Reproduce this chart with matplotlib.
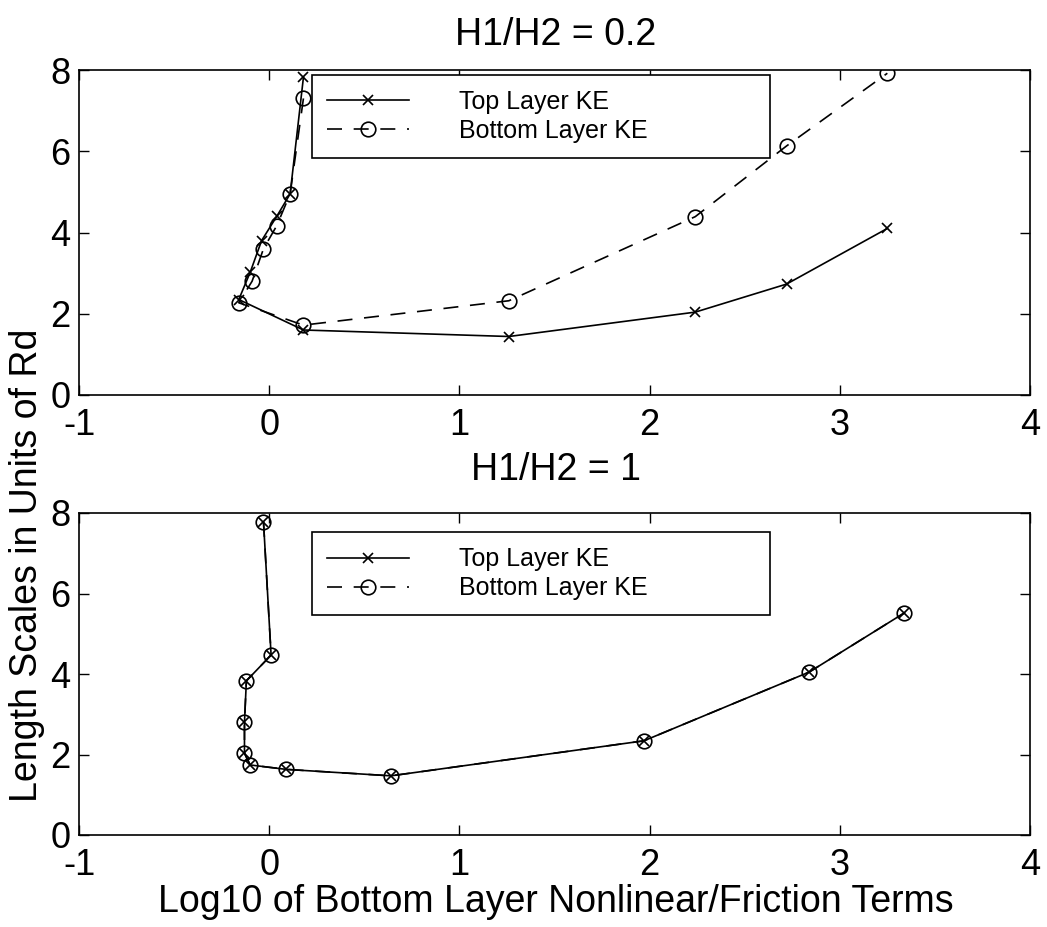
import matplotlib
matplotlib.use("Agg")
import matplotlib.pyplot as plt

plt.rcParams['font.family'] = ['Liberation Sans', 'DejaVu Sans']

# ---- data: H1/H2 = 0.2 ----
top02_x = [0.18, 0.11, 0.04, -0.04, -0.10, -0.16, 0.18, 1.26, 2.24, 2.72, 3.25]
top02_y = [7.82, 4.95, 4.40, 3.80, 3.02, 2.35, 1.60, 1.44, 2.04, 2.73, 4.10]
bot02_x = [0.18, 0.11, 0.04, -0.03, -0.09, -0.16, 0.18, 1.26, 2.24, 2.72, 3.25]
bot02_y = [7.30, 4.95, 4.17, 3.60, 2.80, 2.27, 1.72, 2.32, 4.39, 6.13, 7.92]

# ---- data: H1/H2 = 1 ----
top1_x = [-0.03, 0.01, -0.12, -0.13, -0.13, -0.10, 0.09, 0.64, 1.97, 2.84, 3.34]
top1_y = [7.78, 4.47, 3.83, 2.80, 2.03, 1.74, 1.63, 1.47, 2.34, 4.05, 5.52]
bot1_x = list(top1_x)
bot1_y = list(top1_y)

titles = ["H1/H2 = 0.2", "H1/H2 = 1"]
labels = ["Top Layer KE", "Bottom Layer KE"]
xticks = [-1, 0, 1, 2, 3, 4]
yticks = [0, 2, 4, 6, 8]

W, H = 1047, 927
fig = plt.figure(figsize=(W / 100, H / 100), dpi=100)

def px_axes(l, t, r, b):
    return fig.add_axes([l / W, 1 - b / H, (r - l) / W, (b - t) / H])

ax1 = px_axes(79, 70, 1030, 395)
ax2 = px_axes(79, 513, 1030, 835)

FS = 26
LFS = 27
lw = 1.2
title_y = [35, 470]
for ax, (tx, ty, bx, by), title, leg_y, ty_px, xpad in [
        (ax1, (top02_x, top02_y, bot02_x, bot02_y), titles[0], 0.985, title_y[0], 9.5),
        (ax2, (top1_x, top1_y, bot1_x, bot1_y), titles[1], 0.94, title_y[1], 9.5)]:
    ax.plot(tx, ty, '-', color='black', lw=lw, marker='x', ms=7.5, mew=1.2,
            label=labels[0])
    ax.plot(bx, by, '--', color='black', lw=lw, marker='o', ms=10.5, mew=1.2,
            mfc='none', dashes=(9, 7), label=labels[1])
    ax.set_xlim(-1, 4)
    ax.set_ylim(0, 8)
    ax.set_xticks(xticks)
    ax.set_yticks(yticks)
    ax.set_xticklabels([str(v) for v in xticks])
    ax.tick_params(direction='in', length=7, width=1, top=True, right=True,
                   labelsize=FS)
    ax.tick_params(axis='x', pad=xpad)
    ax.tick_params(axis='y', pad=6)
    for s in ax.spines.values():
        s.set_linewidth(1.2)
    fig.text(556 / W, 1 - ty_px / H, title, fontsize=LFS, ha='center', va='center')
    leg = ax.legend(loc='upper left', bbox_to_anchor=(0.245, leg_y, 0.482, 0.0),
                    mode='expand', fontsize=18, frameon=True, fancybox=False,
                    edgecolor='black', framealpha=1, handlelength=3.3,
                    handletextpad=2.0, labelspacing=0.2, borderpad=0.6,
                    borderaxespad=0)
    leg.get_frame().set_linewidth(1.2)

fig.text(556 / W, 1 - 902 / H, "Log10 of Bottom Layer Nonlinear/Friction Terms",
         fontsize=LFS, ha='center', va='center')
fig.text(27 / W, 1 - 565 / H, "Length Scales in Units of Rd", fontsize=LFS,
         rotation=90, ha='center', va='center')

fig.savefig("out.png", dpi=100)
